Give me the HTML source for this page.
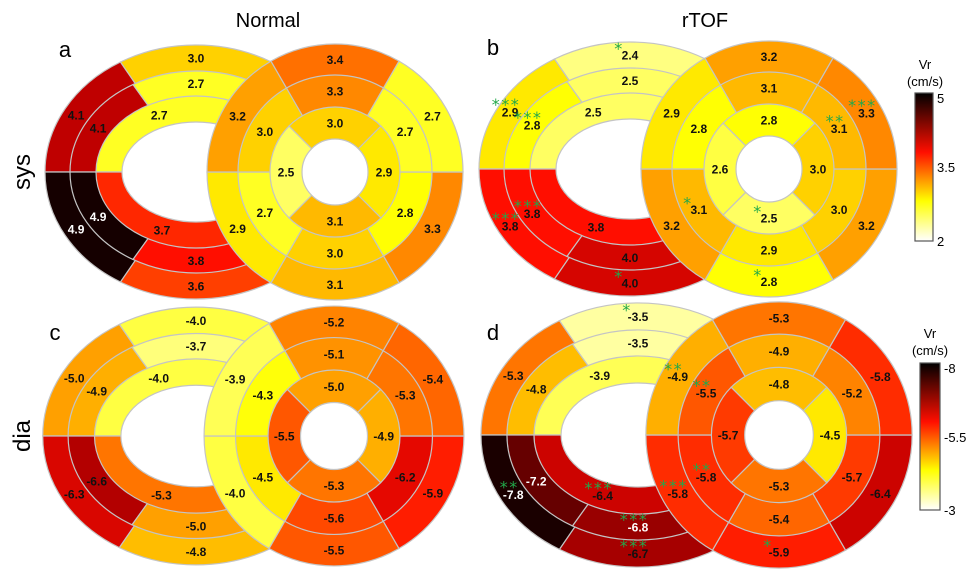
<!DOCTYPE html>
<html><head><meta charset="utf-8">
<style>
html,body{margin:0;padding:0;background:#fff;}
svg{display:block;font-family:"Liberation Sans",Arial,sans-serif;}
</style></head>
<body>
<svg id="fig" width="980" height="579" viewBox="0 0 980 579">
  <defs>
    <linearGradient id="hotg" x1="0" y1="1" x2="0" y2="0">
      <stop offset="0" stop-color="#ffffff"/>
      <stop offset="0.27" stop-color="#ffff00"/>
      <stop offset="0.6" stop-color="#ff0e00"/>
      <stop offset="1" stop-color="#000000"/>
    </linearGradient>
  </defs>
  <text x="268" y="27" font-size="20" text-anchor="middle">Normal</text>
  <text x="705" y="27" font-size="20" text-anchor="middle">rTOF</text>
  <text transform="translate(30,172) rotate(-90)" font-size="24" text-anchor="middle">sys</text>
  <text transform="translate(30,436) rotate(-90)" font-size="24" text-anchor="middle">dia</text>
  <text x="65" y="57" font-size="22" text-anchor="middle">a</text>
  <text x="493" y="55" font-size="22" text-anchor="middle">b</text>
  <text x="55" y="340" font-size="22" text-anchor="middle">c</text>
  <text x="493" y="340" font-size="22" text-anchor="middle">d</text>

  <g id="cbs">
    <text x="925" y="69" font-size="13" text-anchor="middle">Vr</text>
    <text x="925" y="86" font-size="13" text-anchor="middle">(cm/s)</text>
    <rect x="915" y="93" width="18" height="148" fill="url(#hotg)" stroke="#555" stroke-width="1.2"/>
    <text x="937" y="103" font-size="13">5</text>
    <text x="937" y="172" font-size="13">3.5</text>
    <text x="937" y="246" font-size="13">2</text>
  </g>
  <g id="cbd">
    <text x="930" y="338" font-size="13" text-anchor="middle">Vr</text>
    <text x="930" y="355" font-size="13" text-anchor="middle">(cm/s)</text>
    <rect x="920" y="363" width="20" height="147" fill="url(#hotg)" stroke="#555" stroke-width="1.2"/>
    <text x="944" y="373" font-size="13">-8</text>
    <text x="944" y="442" font-size="13">-5.5</text>
    <text x="944" y="515" font-size="13">-3</text>
  </g>
</svg>
<script>
// Values: ellipse outer/middle order [upper-left, top, lower-left, bottom]; ellipse inner [top, bottom]
// circle outer/middle order [lower-right, bottom, lower-left, upper-left, top, upper-right]; circle inner [right, bottom, left, top]
const aEllOuter=[4.1,3.0,4.9,3.6], aEllMid=[4.1,2.7,4.9,3.8], aEllInner=[2.7,3.7];
const aCircOuter=[3.3,3.1,2.9,3.2,3.4,2.7], aCircMid=[2.8,3.0,2.7,3.0,3.3,2.7], aCircInner=[2.9,3.1,2.5,3.0];
const bEllOuter=[2.9,2.4,3.8,4.0], bEllMid=[2.8,2.5,3.8,4.0], bEllInner=[2.5,3.8];
const bCircOuter=[3.2,2.8,3.2,2.9,3.2,3.3], bCircMid=[3.0,2.9,3.1,2.8,3.1,3.1], bCircInner=[3.0,2.5,2.6,2.8];
const cEllOuter=[-5.0,-4.0,-6.3,-4.8], cEllMid=[-4.9,-3.7,-6.6,-5.0], cEllInner=[-4.0,-5.3];
const cCircOuter=[-5.9,-5.5,-4.0,-3.9,-5.2,-5.4], cCircMid=[-6.2,-5.6,-4.5,-4.3,-5.1,-5.3], cCircInner=[-4.9,-5.3,-5.5,-5.0];
const dEllOuter=[-5.3,-3.5,-7.8,-6.7], dEllMid=[-4.8,-3.5,-7.2,-6.8], dEllInner=[-3.9,-6.4];
const dCircOuter=[-6.4,-5.9,-5.8,-4.9,-5.3,-5.8], dCircMid=[-5.7,-5.4,-5.8,-5.5,-4.9,-5.2], dCircInner=[-4.5,-5.3,-5.7,-4.8];
// Significance stars, same ordering
const bEllOuterStars=['***','*','***','*'], bEllMidStars=['***','','***',''], bEllInnerStars=['',''];
const bCircOuterStars=['','*','','','','***'], bCircMidStars=['','','*','','','**'], bCircInnerStars=['','*','',''];
const dEllOuterStars=['','*','**','***'], dEllMidStars=['','','','***'], dEllInnerStars=['','***'];
const dCircOuterStars=['','*','***','**','',''], dCircMidStars=['','','**','**','',''], dCircInnerStars=['','','',''];
const noStars4=['','','',''], noStars2=['',''], noStars6=['','','','','',''];
const sysRange=[2,5], diaRange=[-3,-8];

const svg=document.getElementById('fig');
const NS='http://www.w3.org/2000/svg';
function hot(t){
  t=Math.max(0,Math.min(1,t));let r,g,b;
  if(t<0.27){r=255;g=255;b=255*(1-t/0.27);}
  else if(t<0.6){r=255;g=255*(1-(t-0.27)/0.35);b=0;}
  else{r=255*(1-(t-0.6)/0.4);g=Math.max(0,14*(1-(t-0.6)/0.1));b=0;}
  return 'rgb('+Math.round(r)+','+Math.round(g)+','+Math.round(b)+')';
}
const RAD=Math.PI/180;
function sector(g,cx,cy,rx,ry,a1,a2,fill,name){
  const p=document.createElementNS(NS,'path');
  const x1=cx+rx*Math.cos(a1*RAD),y1=cy+ry*Math.sin(a1*RAD);
  const x2=cx+rx*Math.cos(a2*RAD),y2=cy+ry*Math.sin(a2*RAD);
  const large=(a2-a1)>180?1:0;
  p.setAttribute('d','M'+cx+','+cy+' L'+x1+','+y1+' A'+rx+','+ry+' 0 '+large+' 1 '+x2+','+y2+' Z');
  p.setAttribute('fill',fill);p.setAttribute('stroke','#c4c4c4');p.setAttribute('stroke-width','1.2');
  
  
  g.appendChild(p);
}
function label(g,x,y,v,t,stars,name){
  const tx=document.createElementNS(NS,'text');
  tx.setAttribute('x',x);tx.setAttribute('y',y+4.5);tx.setAttribute('text-anchor','middle');
  tx.setAttribute('font-size','12');tx.setAttribute('font-weight','bold');
  tx.setAttribute('fill',t>0.75?'#fff':'#111');
  tx.textContent=v.toFixed(1);
  
  
  g.appendChild(tx);
  if(stars){
    const st=document.createElementNS(NS,'text');
    const single=stars.length===1;
    st.setAttribute('x',single?x-11:x-4);st.setAttribute('y',single?y-1:y-2);
    st.setAttribute('text-anchor','middle');st.setAttribute('font-size','16');
    st.setAttribute('font-family','"DejaVu Sans",sans-serif');
    st.setAttribute('fill','#22a84a');st.setAttribute('letter-spacing','1.5');
    st.textContent=stars;
    
    
    g.appendChild(st);
  }
}
const ellRx=[151,126,100,74], ellRy=[127,101,76,50], circR=[128,97,65,33];
const ellSegs=[[180,240],[240,300],[120,180],[60,120]];
const ellInSegs=[[180,360,245],[0,180,113]];
const circSegs=[0,60,120,180,240,300];
const circInSegs=[0,90,180,270];
function panel(id,ex,ey,s,dx,range,eO,eM,eI,cO,cM,cI,sO,sM,sI,tO,tM,tI){
  const g=document.createElementNS(NS,'g');
  
  
  svg.appendChild(g);
  const T=v=>(v-range[0])/(range[1]-range[0]);
  const rx=ellRx.map(r=>r*s), ry=ellRy.map(r=>r*s), cr=circR.map(r=>r*s);
  const cx=ex+dx;
  const labs=[];
  [[eO,0,sO],[eM,1,sM]].forEach(([arr,k,st])=>{
    arr.forEach((v,i)=>{
      const [a1,a2]=ellSegs[i];
      sector(g,ex,ey,rx[k],ry[k],a1,a2,hot(T(v)),'ellipse-'+(k?'middle':'outer')+'-seg-'+i);
      const m=(a1+a2)/2, rr=(rx[k]+rx[k+1])/2, rr2=(ry[k]+ry[k+1])/2;
      labs.push([ex+rr*Math.cos(m*RAD),ey+rr2*Math.sin(m*RAD),v,T(v),st[i],'ellipse-'+(k?'middle':'outer')+'-'+i]);
    });
  });
  eI.forEach((v,i)=>{
    const [a1,a2,m]=ellInSegs[i];
    sector(g,ex,ey,rx[2],ry[2],a1,a2,hot(T(v)),'ellipse-inner-seg-'+i);
    const rr=(rx[2]+rx[3])/2, rr2=(ry[2]+ry[3])/2;
    labs.push([ex+rr*Math.cos(m*RAD),ey+rr2*Math.sin(m*RAD),v,T(v),sI[i],'ellipse-inner-'+i]);
  });
  const hole=document.createElementNS(NS,'ellipse');
  hole.setAttribute('cx',ex);hole.setAttribute('cy',ey);hole.setAttribute('rx',rx[3]);hole.setAttribute('ry',ry[3]);
  hole.setAttribute('fill','#fff');hole.setAttribute('stroke','#c4c4c4');hole.setAttribute('stroke-width','1.2');
  
  
  g.appendChild(hole);
  [[cO,0,tO],[cM,1,tM]].forEach(([arr,k,st])=>{
    arr.forEach((v,i)=>{
      const c=circSegs[i]+30;
      sector(g,cx,ey,cr[k],cr[k],c-30,c+30,hot(T(v)),'circle-'+(k?'middle':'outer')+'-seg-'+i);
      const rr=(cr[k]+cr[k+1])/2;
      labs.push([cx+rr*Math.cos(c*RAD),ey+rr*Math.sin(c*RAD),v,T(v),st[i],'circle-'+(k?'middle':'outer')+'-'+i]);
    });
  });
  cI.forEach((v,i)=>{
    const c=circInSegs[i];
    sector(g,cx,ey,cr[2],cr[2],c-45,c+45,hot(T(v)),'circle-inner-seg-'+i);
    const rr=(cr[2]+cr[3])/2;
    labs.push([cx+rr*Math.cos(c*RAD),ey+rr*Math.sin(c*RAD),v,T(v),tI[i],'circle-inner-'+i]);
  });
  const ch=document.createElementNS(NS,'circle');
  ch.setAttribute('cx',cx);ch.setAttribute('cy',ey);ch.setAttribute('r',cr[3]);
  ch.setAttribute('fill','#fff');ch.setAttribute('stroke','#c4c4c4');ch.setAttribute('stroke-width','1.2');
  
  
  g.appendChild(ch);
  labs.forEach(l=>label(g,l[0],l[1],l[2],l[3],l[4],l[5]));
}
panel('a',196,172,1.0,139,sysRange,aEllOuter,aEllMid,aEllInner,aCircOuter,aCircMid,aCircInner,noStars4,noStars4,noStars2,noStars6,noStars6,noStars4);
panel('b',630,169,1.0,139,sysRange,bEllOuter,bEllMid,bEllInner,bCircOuter,bCircMid,bCircInner,bEllOuterStars,bEllMidStars,bEllInnerStars,bCircOuterStars,bCircMidStars,bCircInnerStars);
panel('c',196,436,1.015,138,diaRange,cEllOuter,cEllMid,cEllInner,cCircOuter,cCircMid,cCircInner,noStars4,noStars4,noStars2,noStars6,noStars6,noStars4);
panel('d',638,435,1.04,141,diaRange,dEllOuter,dEllMid,dEllInner,dCircOuter,dCircMid,dCircInner,dEllOuterStars,dEllMidStars,dEllInnerStars,dCircOuterStars,dCircMidStars,dCircInnerStars);
svg.appendChild(document.getElementById('cbs'));
svg.appendChild(document.getElementById('cbd'));
</script>
</body></html>
